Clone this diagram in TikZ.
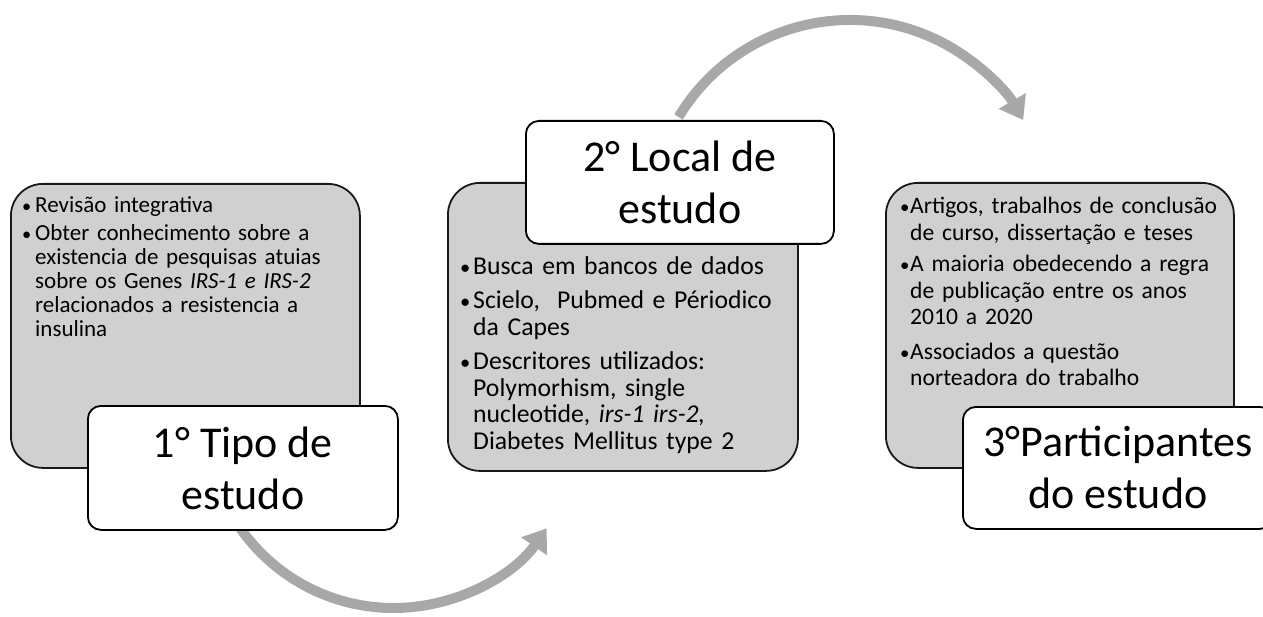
\documentclass[tikz,border=0pt]{standalone}
\usepackage{fontspec}
\usepackage{graphicx}
\setmainfont{Carlito}
\usetikzlibrary{arrows.meta}
\definecolor{boxgray}{RGB}{208,208,208}
\definecolor{arrgray}{RGB}{168,168,168}
\newcommand{\bpt}[2]{\hangindent=#1\hangafter=1\noindent\makebox[#1][l]{\scalebox{0.8}{\textbullet}}#2\par}
\begin{document}
\begin{tikzpicture}[x=1pt,y=-1pt,
  panel/.style={draw=black!90, line width=1.8pt, fill=boxgray, rounded corners=32pt, anchor=north west, inner sep=0pt},
  title/.style={draw=black, line width=1.8pt, fill=white, rounded corners=13pt, anchor=north west, inner sep=0pt},
  titletext/.style={align=center, inner sep=0pt, font=\fontsize{44}{52}\selectfont},
  body/.style={anchor=base west, inner sep=0pt, text width=335pt},
  flow/.style={draw=arrgray, line width=10pt, -{Triangle[width=30pt,length=22pt]}}]

\useasboundingbox (0,0) rectangle (1263,617);

% arrows (behind boxes)
\coordinate (c1) at (393.5,421);
\coordinate (c2) at (850,220);
\draw[flow] (c1) ++(145:187) arc[start angle=145, end angle=35, radius=187] coordinate (e1);
\draw[flow] (c2) ++(211:200) arc[start angle=211, end angle=330, radius=200] coordinate (e2);

% gray panels
\node[panel, minimum width=349pt, minimum height=284pt] (g1) at (10,183) {};
\node[panel, minimum width=350pt, minimum height=288pt] (g2) at (447,182) {};
\node[panel, minimum width=348pt, minimum height=285pt] (g3) at (885,182) {};

% title boxes
\node[title, minimum width=310pt, minimum height=124pt] (t1) at (87,405) {};
\node[title, minimum width=308pt, minimum height=123pt] (t2) at (525,120) {};
\node[title, minimum width=310pt, minimum height=122pt] (t3) at (962,406) {};

\node[titletext] (tt1) at (t1.center) {1° Tipo de\\estudo};
\node[titletext] (tt2) at (t2.center) {2° Local de\\estudo};
\node[titletext] (tt3) at (t3.center) {3°Participantes\\do estudo};

% body texts
\node[body, font=\fontsize{23}{24}\selectfont] (b1) at (22,213) {%
\raggedright\parskip=0pt
\bpt{13pt}{Revisão integrativa}\vspace{4pt}
\bpt{13pt}{Obter conhecimento sobre a\newline existencia de pesquisas atuias\newline sobre os Genes \textit{IRS-1 e IRS-2}\newline relacionados a resistencia a\newline insulina}};

\node[body, font=\fontsize{25.7}{26.8}\selectfont] (b2) at (460,275) {%
\raggedright\parskip=0pt
\bpt{13pt}{Busca em bancos de dados}\vspace{7pt}
\bpt{13pt}{Scielo,\ \ Pubmed e Périodico\newline da Capes}\vspace{7pt}
\bpt{13pt}{Descritores utilizados:\newline Polymorhism, single\newline nucleotide, \textit{irs-1 irs-2,}\newline Diabetes Mellitus type 2}};

\node[body, font=\fontsize{23.6}{26.5}\selectfont] (b3) at (900,214) {%
\raggedright\parskip=0pt
\bpt{10pt}{Artigos, trabalhos de conclusão\newline de curso, dissertação e teses}\vspace{5pt}
\bpt{10pt}{A maioria obedecendo a regra\newline de publicação entre os anos\newline 2010 a 2020}\vspace{8pt}
\bpt{10pt}{Associados a questão\newline norteadora do trabalho}};
\end{tikzpicture}
\end{document}
